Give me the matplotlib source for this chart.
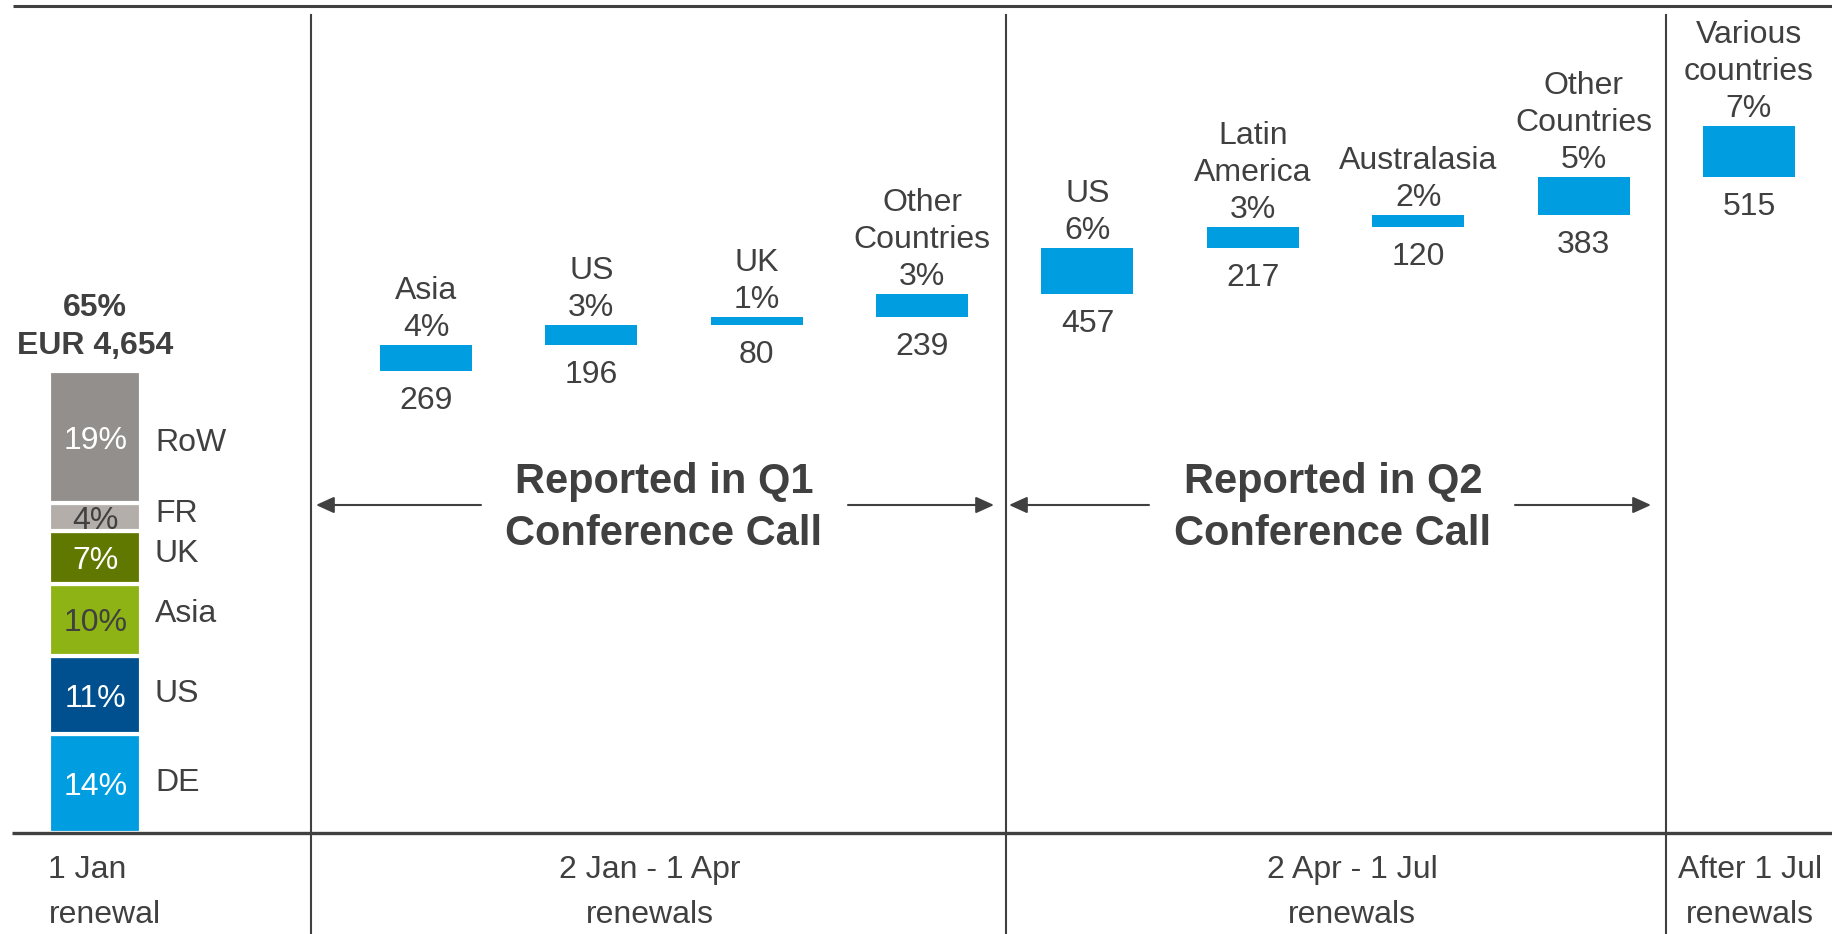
import matplotlib
matplotlib.use("Agg")
import matplotlib.pyplot as plt

plt.rcParams['font.family'] = ['Liberation Sans', 'DejaVu Sans']

# 1 Jan renewal split (EUR m), bottom to top
stack_regions = ["DE", "US", "Asia", "UK", "FR", "RoW"]
stack_values = [998, 786, 729, 528, 282, 1331]
stack_pcts = ["14%", "11%", "10%", "7%", "4%", "19%"]
stack_colors = ["#009EE0", "#00508F", "#8DB314", "#607800", "#B3AEA9", "#938F8C"]
stack_text_colors = ["white", "white", "#404040", "white", "#404040", "white"]
stack_total = "65%\nEUR 4,654"

# later renewals (EUR m)
renewal_labels = ["Asia\n4%", "US\n3%", "UK\n1%", "Other\nCountries\n3%",
                  "US\n6%", "Latin\nAmerica\n3%", "Australasia\n2%", "Other\nCountries\n5%",
                  "Various\ncountries\n7%"]
renewal_values = [269, 196, 80, 239, 457, 217, 120, 383, 515]

period_lines = [["1 Jan", "renewal"], ["2 Jan - 1 Apr", "renewals"],
                ["2 Apr - 1 Jul", "renewals"], ["After 1 Jul", "renewals"]]
call_labels = ["Reported in Q1\nConference Call", "Reported in Q2\nConference Call"]

dark = "#404040"
blue = "#009EE0"
W, H = 1833, 934
base_px = 833          # pixel row of the zero line
k = 10.08              # EUR per pixel
step = 165.375
x0 = 95.25
bar_w = 92
fs = 23


def ypx(p):
    return (base_px - p) * k


fig = plt.figure(figsize=(W / 100, H / 100), dpi=100)
ax = fig.add_axes([0, 0, 1, 1])
ax.set_xlim(0, W)
ax.set_ylim(ypx(H), ypx(0))
ax.axis("off")

# stacked 1 Jan bar
bottom = 0
for reg, val, pct, col, tcol in zip(stack_regions, stack_values, stack_pcts,
                                    stack_colors, stack_text_colors):
    ax.bar(x0, val, bottom=bottom, width=bar_w, color=col, edgecolor="white",
           linewidth=3, zorder=2)
    ax.text(x0, bottom + val / 2, pct, ha="center", va="center_baseline",
            color=tcol, fontsize=fs, zorder=3)
    bottom += val

side_nudge = [4, 5, 9, 7, 7, -2]  # pixels up from segment centre
bottom = 0
for reg, val, nud in zip(stack_regions, stack_values, side_nudge):
    ax.text(155, bottom + val / 2 + nud * k, reg, ha="left",
            va="center_baseline", color=dark, fontsize=fs)
    bottom += val

ax.annotate(stack_total, xy=(x0, bottom), xytext=(0, 10), textcoords="offset pixels",
            ha="center", va="bottom", fontsize=fs, fontweight="bold", color=dark,
            linespacing=1.36)

# floating waterfall bars
cum = sum(stack_values)
for i, (lab, val) in enumerate(zip(renewal_labels, renewal_values)):
    x = x0 + step * (i + 2)
    ax.bar(x, val, bottom=cum, width=bar_w, color=blue, linewidth=0, zorder=2)
    ax.annotate(lab, xy=(x, cum + val), xytext=(0, 2), textcoords="offset pixels",
                ha="center", va="bottom", fontsize=fs, color=dark, linespacing=1.3)
    ax.annotate(str(val), xy=(x, cum), xytext=(0, -15), textcoords="offset pixels",
                ha="center", va="top", fontsize=fs, color=dark)
    cum += val

# frame lines
ax.plot([13, W], [ypx(5.7)] * 2, color=dark, lw=2.2, solid_capstyle="butt", zorder=4)
ax.plot([12, W], [0, 0], color=dark, lw=2.4, solid_capstyle="butt", zorder=4)
for xd in [311, 1006, 1666]:
    ax.plot([xd, xd], [ypx(15), ypx(H)], color=dark, lw=1.5, zorder=4)

# reported-in call annotations with arrows
arrow_y = ypx(505)
arrow_kw = dict(arrowstyle="-|>,head_length=1.1,head_width=0.5", color=dark, lw=1.5,
                shrinkA=0, shrinkB=0)
for lab, cx, (l_tip, l_tail, r_tail, r_tip) in zip(
        call_labels, [664, 1333], [(316, 481, 848, 994), (1009, 1149, 1515, 1651)]):
    ax.text(cx, ypx(508), lab, ha="center", va="center", fontsize=30,
            fontweight="bold", color=dark, linespacing=1.36)
    ax.annotate("", xy=(l_tip, arrow_y), xytext=(l_tail, arrow_y), arrowprops=arrow_kw)
    ax.annotate("", xy=(r_tip, arrow_y), xytext=(r_tail, arrow_y), arrowprops=arrow_kw)

# period labels under the axis
for (l1, l2), cx, ha in zip(period_lines, [48.5, 650, 1352, 1750],
                            ["left", "center", "center", "center"]):
    ax.text(cx, ypx(878.3), l1, ha=ha, va="baseline", fontsize=fs, color=dark)
    ax.text(cx, ypx(923.3), l2, ha=ha, va="baseline", fontsize=fs, color=dark)

fig.savefig("out.png", dpi=100)
